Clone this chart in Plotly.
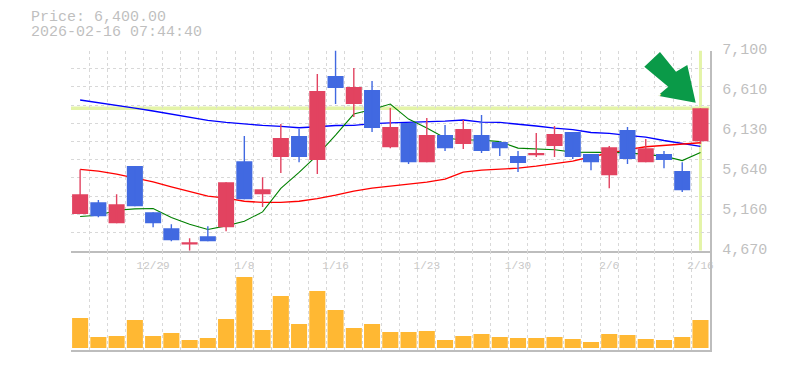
import plotly.graph_objects as go

dates = ["12/23","12/24","12/25","12/26","12/29","12/30","1/5","1/6","1/7","1/8","1/9","1/13","1/14","1/15","1/16",
         "1/19","1/20","1/21","1/22","1/23","1/26","1/27","1/28","1/29","1/30","2/2","2/3","2/4","2/5","2/6",
         "2/9","2/10","2/12","2/13","2/16"]
label_dates = ["12/29","1/8","1/16","1/23","1/30","2/6","2/16"]
open_ = [5114,5259,5004,5697,5138,4943,4749,4846,4956,5757,5356,5806,6061,5770,6790,6450,6620,5927,6219,5745,
         6073,5964,6073,5988,5818,5830,5940,6110,5843,5587,6134,5745,5843,5636,6000]
close = [5356,5089,5235,5211,5004,4797,4773,4785,5502,5296,5417,6037,5806,6608,6644,6657,6158,6171,5745,6073,
         5915,6146,5879,5915,5733,5855,6086,5806,5745,5927,5782,5915,5770,5405,6400]
high = [5657,5284,5356,5697,5138,4992,4822,4968,5502,6061,5563,6207,6146,6815,7100,6887,6729,6401,6219,6280,
        6195,6256,6316,6000,5879,6098,6183,6110,5843,5940,6171,6025,5879,5745,6400]
low = [5114,5077,5004,5211,4956,4785,4670,4785,4907,5296,5199,5612,5745,5600,6450,6292,6110,5915,5721,5745,
       5879,5903,5855,5818,5624,5806,5806,5782,5648,5429,5721,5745,5672,5381,5964]
ma_short = [5086,5101,5162,5178,5183,5073,4992,4928,4971,5028,5141,5426,5620,5830,6073,6329,6383,6450,6268,6158,
            6037,6013,6013,5994,5915,5907,5895,5867,5867,5867,5861,5836,5818,5764,5863]
ma_mid = [5657,5636,5600,5555,5506,5445,5384,5332,5308,5271,5256,5256,5271,5302,5344,5393,5429,5454,5478,5502,
          5539,5624,5648,5657,5672,5697,5727,5757,5810,5855,5897,5931,5946,5964,5980]
ma_long = [6499,6468,6434,6401,6365,6329,6292,6252,6228,6207,6191,6179,6162,6174,6189,6191,6213,6222,6228,6235,
           6243,6256,6231,6228,6201,6183,6158,6140,6104,6094,6070,6049,6007,5973,5936]
volume = [300,110,120,280,120,150,80,100,290,710,180,520,240,570,380,200,240,160,160,170,80,120,140,110,100,100,110,
          90,60,140,130,90,80,110,280]
price_ticks = [4670,5160,5640,6130,6610,7100]
stamp = "2026-02-16 07:44:40"
badge = "暴騰"

W, H = 785, 370
LEFT, RIGHT, TOP, MID, BOTTOM = 71, 709.6, 50.5, 250.7, 350
GRID, AXIS, TXT = "#d8d8d8", "#bdbdbd", "#bfbfbf"
RED, BLUE = "#e24360", "#4169e1"
MONO = "Liberation Mono, monospace"
n = len(dates)
xs = list(range(n))
PMIN, PMAX = price_ticks[0], price_ticks[-1]
edges = [i - 0.5 for i in range(n + 1)]
hgrid = [PMIN + (PMAX - PMIN) * k / 11 for k in range(12)]
colors = [RED if c >= o else BLUE for o, c in zip(open_, close)]

fig = go.Figure()
for vals, col, lw in ((ma_long, "#0000ff", 1.4), (ma_mid, "#ff0000", 1.4), (ma_short, "#008000", 1.1)):
    fig.add_trace(go.Scatter(x=xs, y=vals, mode="lines", line=dict(color=col, width=lw), xaxis="x", yaxis="y"))

fig.add_trace(go.Bar(x=xs, base=[min(o, c) for o, c in zip(open_, close)],
                     y=[abs(c - o) for o, c in zip(open_, close)], width=0.88,
                     marker=dict(color=colors, line_width=0), xaxis="x", yaxis="y3"))
for col in (RED, BLUE):
    wx, wy = [], []
    for i in xs:
        if colors[i] == col:
            wx += [i, i, None]
            wy += [high[i], low[i], None]
    fig.add_trace(go.Scatter(x=wx, y=wy, mode="lines", line=dict(color=col, width=1.4), xaxis="x", yaxis="y3"))

fig.add_trace(go.Bar(x=xs, y=volume, width=0.88, marker=dict(color="#ffb833", line_width=0), xaxis="x2", yaxis="y2"))

dash = "3px,3px"
minor_x = dict(tickmode="array", tickvals=edges, showgrid=True, gridcolor=GRID, griddash=dash, gridwidth=1, ticks="")
fig.update_layout(
    template="none",
    width=W, height=H, autosize=False, showlegend=False, paper_bgcolor="white", plot_bgcolor="white",
    margin=dict(l=0, r=0, t=0, b=0), barmode="overlay",
    font=dict(family=MONO, color=TXT),
    xaxis=dict(domain=[LEFT / W, RIGHT / W], range=[-0.5, n - 0.5], anchor="y", showgrid=False, zeroline=False,
               automargin=False, tickmode="array", tickvals=[dates.index(d) for d in label_dates], ticktext=label_dates,
               ticks="", tickfont=dict(family=MONO, size=11, color="#c8c8c8"), ticklabelstandoff=3,
               showline=True, linecolor=AXIS, linewidth=1.5, minor=minor_x),
    xaxis2=dict(domain=[LEFT / W, RIGHT / W], range=[-0.5, n - 0.5], anchor="y2", showgrid=False, zeroline=False,
                automargin=False, tickmode="array", tickvals=[], showline=True, linecolor=AXIS, linewidth=1.5, minor=minor_x),
    yaxis=dict(domain=[1 - MID / H, 1 - TOP / H], range=[PMIN, PMAX], anchor="x", side="right", zeroline=False,
               automargin=False, showgrid=False, tickmode="array", tickvals=price_ticks, ticktext=[f"{v:,}" for v in price_ticks],
               ticks="", tickfont=dict(family=MONO, size=15, color=TXT), ticklabelstandoff=8, ticklabelshift=-2,
               showline=True, linecolor=AXIS, linewidth=1.5,
               minor=dict(tickmode="array", tickvals=hgrid, showgrid=True, gridcolor=GRID, griddash=dash, gridwidth=1, ticks="")),
    yaxis2=dict(domain=[1 - BOTTOM / H, 1 - MID / H], range=[-20, 973], anchor="x2", side="right", zeroline=False,
                automargin=False, showgrid=False, showticklabels=False, ticks="", showline=True, linecolor=AXIS, linewidth=1.5),
    yaxis3=dict(overlaying="y", range=[PMIN, PMAX], anchor="x", side="right", zeroline=False, showgrid=False,
                automargin=False, showticklabels=False, ticks="", showline=False),
)

ribbon = "#e4f4a8"
fig.add_shape(type="line", xref="x", yref="y", x0=-0.5, x1=n - 0.5, y0=close[-1], y1=close[-1],
              line=dict(color=ribbon, width=3.5), layer="below")
fig.add_shape(type="line", xref="x", yref="y", x0=n - 1, x1=n - 1, y0=PMIN, y1=PMAX,
              line=dict(color=ribbon, width=3), layer="below")

arrow_pts = [(660, 52), (676, 71.7), (687.3, 65), (695.7, 102.7), (657.7, 95.7), (668.3, 86.7), (644.3, 66.7)]
path = "M " + " L ".join(f"{x / W:.5f} {1 - y / H:.5f}" for x, y in arrow_pts) + " Z"
fig.add_shape(type="path", xref="paper", yref="paper", path=path, fillcolor="#0a9a48", line_width=0, layer="above")
fig.add_annotation(xref="paper", yref="paper", x=667 / W, y=1 - 74 / H, text=f"<b>{badge}</b>", showarrow=False,
                   textangle=48, font=dict(family="Noto Sans CJK JP", size=11, color="white"))

for text, y in ((f"Price: {close[-1]:,.2f}", 18), (stamp, 33)):
    fig.add_annotation(xref="paper", yref="paper", x=30 / W, y=1 - y / H, text=text, showarrow=False,
                       xanchor="left", yanchor="middle", xshift=-1, font=dict(family=MONO, size=15, color=TXT))

fig.write_html("out.html", config=dict(displayModeBar=False),
               post_script="document.body.style.margin='0';document.documentElement.style.overflow='hidden';")
